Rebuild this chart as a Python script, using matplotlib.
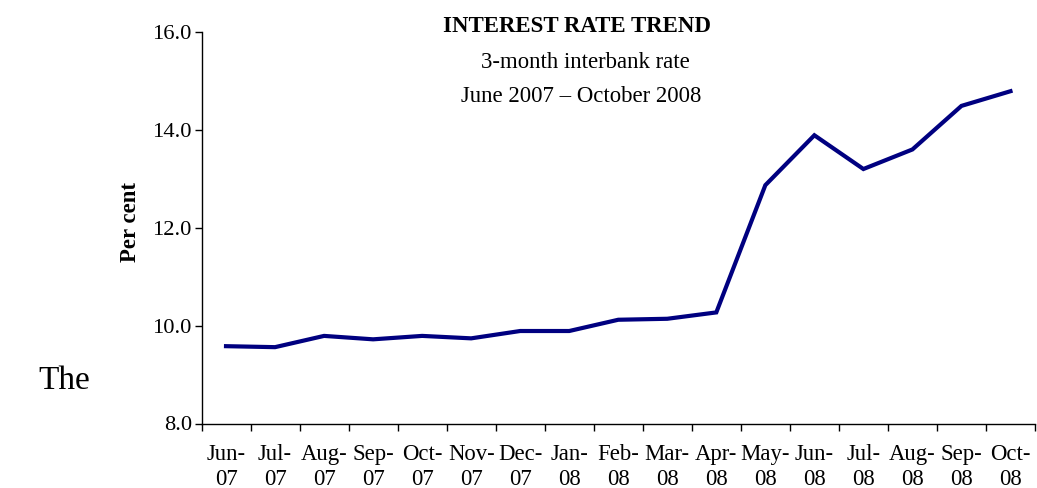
import matplotlib
matplotlib.use("Agg")
import matplotlib.pyplot as plt
import numpy as np

months = ["Jun-\n07", "Jul-\n07", "Aug-\n07", "Sep-\n07", "Oct-\n07", "Nov-\n07",
          "Dec-\n07", "Jan-\n08", "Feb-\n08", "Mar-\n08", "Apr-\n08", "May-\n08",
          "Jun-\n08", "Jul-\n08", "Aug-\n08", "Sep-\n08", "Oct-\n08"]
rates = [9.58, 9.56, 9.79, 9.72, 9.79, 9.74, 9.89, 9.89, 10.12, 10.14, 10.27,
         12.87, 13.89, 13.20, 13.60, 14.49, 14.79]
y_ticks = [8.0, 10.0, 12.0, 14.0, 16.0]

plt.rcParams["font.family"] = ["Liberation Serif", "DejaVu Serif"]

fig = plt.figure(figsize=(10.37, 4.88), dpi=100)
W, H = 1037, 488
left, right, top, bottom = 201.5, 1035, 32, 423.5
ax = fig.add_axes([left / W, 1 - bottom / H, (right - left) / W, (bottom - top) / H])

n = len(months)
x = np.arange(n) + 0.5
ax.plot(x, rates, color="#000080", lw=3.0, solid_joinstyle="miter")

ax.set_xlim(0, n)
ax.set_ylim(8, 16)
ax.set_yticks(y_ticks)
ax.set_yticklabels([f"{v:.1f}" for v in y_ticks], fontsize=16.2)
ax.set_xticks(np.arange(n + 1))
ax.set_xticklabels([])
ax.set_xticks(x, minor=True)
ax.set_xticklabels(months, minor=True, fontsize=16.4, linespacing=1.22)
ax.tick_params(axis="x", which="minor", length=0, pad=15)
ax.tick_params(axis="both", which="major", length=5, width=1, direction="out", pad=2)

for s in ("top", "right"):
    ax.spines[s].set_visible(False)
for s in ("left", "bottom"):
    ax.spines[s].set_linewidth(1)

fig.text(131 / W, 1 - 222 / H, "Per cent", rotation=90, ha="center", va="center",
         fontsize=16.4, fontweight="bold")

fig.text(577 / W, 1 - 31.5 / H, "INTEREST RATE TREND", ha="center", va="baseline",
         fontsize=16.5, fontweight="bold")
fig.text(585 / W, 1 - 68 / H, "3-month interbank rate", ha="center", va="baseline",
         fontsize=16.4)
fig.text(581 / W, 1 - 101.5 / H, "June 2007 \u2013 October 2008", ha="center", va="baseline",
         fontsize=16.4)

fig.text(38 / W, 1 - 381 / H, "The", ha="left", va="center", fontsize=24)

fig.savefig("out.png", dpi=100)
